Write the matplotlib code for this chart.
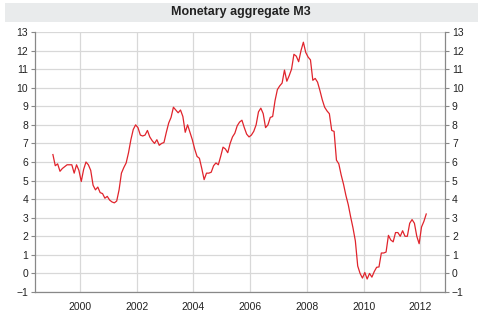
import matplotlib
matplotlib.use("Agg")
import matplotlib.pyplot as plt
import numpy as np
from matplotlib.patches import Rectangle

plt.rcParams["font.family"] = ["Liberation Sans", "DejaVu Sans"]

# M3 annual growth (%), monthly from Jan 1999
m3_growth = [
    6.4, 5.8, 5.9, 5.5, 5.65, 5.75, 5.85, 5.85, 5.85, 5.4, 5.85, 5.55,   # 1999
    4.95, 5.6, 6.0, 5.85, 5.55, 4.75, 4.5, 4.65, 4.35, 4.3, 4.05, 4.15,  # 2000
    3.95, 3.85, 3.8, 3.9, 4.5, 5.4, 5.7, 5.95, 6.5, 7.2, 7.75, 8.0,      # 2001
    7.85, 7.45, 7.4, 7.45, 7.7, 7.35, 7.15, 7.0, 7.2, 6.9, 7.0, 7.05,    # 2002
    7.6, 8.1, 8.4, 8.95, 8.8, 8.65, 8.8, 8.45, 7.6, 8.0, 7.6, 7.2,       # 2003
    6.7, 6.3, 6.2, 5.65, 5.05, 5.4, 5.4, 5.45, 5.8, 5.95, 5.85, 6.3,     # 2004
    6.8, 6.7, 6.5, 7.0, 7.35, 7.55, 7.95, 8.15, 8.25, 7.85, 7.5, 7.35,   # 2005
    7.45, 7.65, 8.0, 8.7, 8.9, 8.6, 7.85, 8.0, 8.4, 8.45, 9.3, 9.9,      # 2006
    10.1, 10.25, 10.95, 10.35, 10.65, 11.0, 11.8, 11.7, 11.4, 12.0, 12.45, 11.9,  # 2007
    11.65, 11.5, 10.4, 10.5, 10.3, 9.85, 9.35, 8.95, 8.75, 8.6, 7.7, 7.65,        # 2008
    6.1, 5.9, 5.3, 4.8, 4.2, 3.7, 3.05, 2.45, 1.75, 0.4, 0.0, -0.25,     # 2009
    0.05, -0.3, 0.0, -0.2, 0.1, 0.33, 0.35, 1.1, 1.1, 1.15, 2.05, 1.8,   # 2010
    1.7, 2.2, 2.2, 2.0, 2.3, 2.0, 2.0, 2.7, 2.9, 2.7, 2.0, 1.6,          # 2011
    2.5, 2.8, 3.2,                                                       # 2012
]
start_year = 1999
year_ticks = [2000, 2002, 2004, 2006, 2008, 2010, 2012]
value_ticks = list(range(-1, 14))

dates = start_year + (np.arange(len(m3_growth)) + 0.5) / 12

fig = plt.figure(figsize=(4.81, 3.21), dpi=100)
fig.patches.append(Rectangle((5 / 481, 1 - 22 / 321), 473 / 481, 19 / 321,
                             transform=fig.transFigure, facecolor="#e9ebec",
                             edgecolor="none", zorder=0))
fig.text(0.5, 1 - 12.5 / 321, "Monetary aggregate M3", ha="center", va="center",
         fontsize=9, fontweight="bold", color="#222222")

ax = fig.add_axes([35 / 481, 29 / 321, 410 / 481, 260 / 321])
ax.plot(dates, m3_growth, color="#e0242c", linewidth=0.9, zorder=3)

ax.set_xlim(1998.41, 2012.87)
ax.set_ylim(-1, 13)
ax.set_xticks(year_ticks)
ax.set_xticklabels([str(y) for y in year_ticks])
ax.set_yticks(value_ticks)
ax.grid(True, color="#d8d8d8", linewidth=0.9, zorder=0)

ax.tick_params(axis="y", which="both", left=True, right=True, labelleft=True,
               labelright=True, length=3, width=0.8, color="#888888",
               labelsize=7.5, labelcolor="#222222", pad=2)
ax.tick_params(axis="x", length=0, labelsize=7.5, labelcolor="#222222", pad=7)

for side in ["left", "right", "bottom"]:
    ax.spines[side].set_color("#888888")
    ax.spines[side].set_linewidth(0.9)
ax.spines["top"].set_visible(False)

fig.savefig("out.png", dpi=100)
